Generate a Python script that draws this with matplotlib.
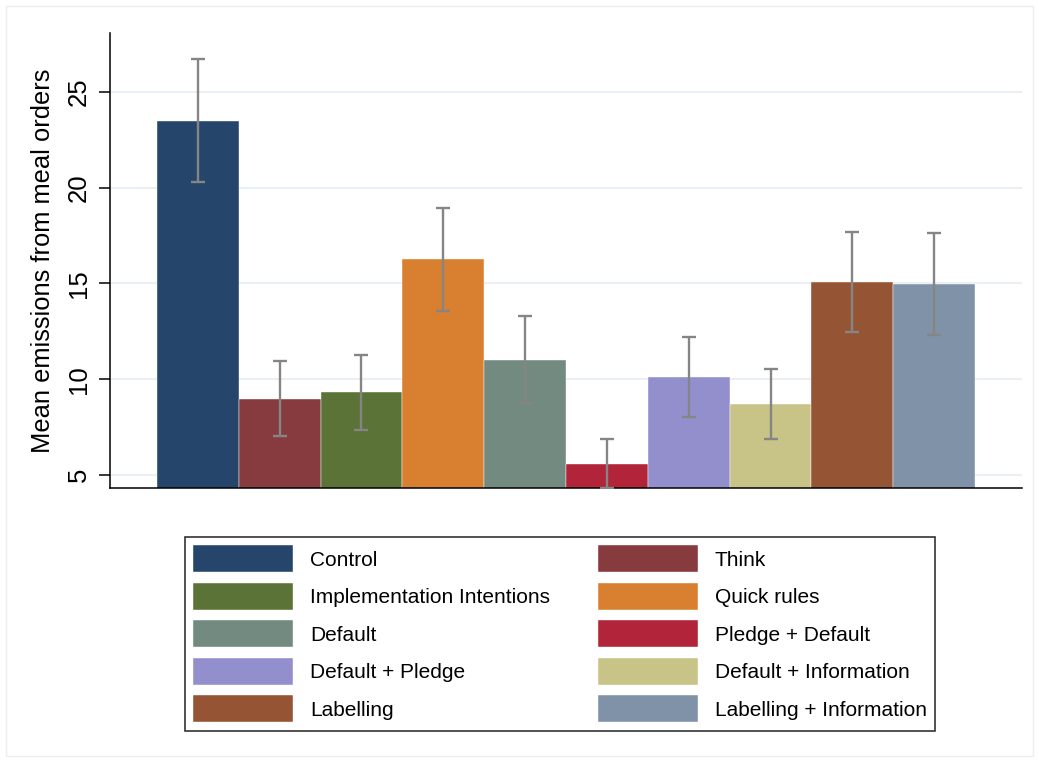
import matplotlib
matplotlib.use('Agg')
import matplotlib.pyplot as plt
from matplotlib.patches import Rectangle

plt.rcParams['font.family'] = ['Liberation Sans', 'DejaVu Sans']

# treatment groups, means and 95% CI bounds
groups = ['Control', 'Think', 'Implementation Intentions', 'Quick rules', 'Default',
          'Pledge + Default', 'Default + Pledge', 'Default + Information',
          'Labelling', 'Labelling + Information']
means = [23.48, 8.98, 9.32, 16.26, 11.0, 5.59, 10.10, 8.72, 15.09, 14.99]
ci_low = [20.30, 7.04, 7.37, 13.58, 8.76, 4.32, 8.01, 6.88, 12.48, 12.33]
ci_high = [26.72, 10.94, 11.27, 18.94, 13.30, 6.86, 12.19, 10.55, 17.70, 17.64]
colors = ['#25456b', '#873b3e', '#5b7336', '#d8802f', '#728a80',
          '#b2243a', '#928fcc', '#c8c386', '#955534', '#8092a8']

fig = plt.figure(figsize=(10.39, 7.6), dpi=100)
ax = fig.add_axes([0.1059, 0.3579, 0.8777, 0.5987])

x = list(range(len(groups)))
bars = ax.bar(x, means, width=1.0, bottom=0, color=colors, label=groups,
              edgecolor='white', linewidth=0.3, zorder=2)
yerr = [[m - lo for m, lo in zip(means, ci_low)],
        [hi - m for m, hi in zip(means, ci_high)]]
ax.errorbar(x, means, yerr=yerr, fmt='none', ecolor='#858585',
            elinewidth=1.7, capsize=4.8, capthick=1.7, zorder=3)

ax.set_xlim(-1.074, 10.074)
ax.set_ylim(4.32, 28.08)
ax.set_yticks([5, 10, 15, 20, 25])
ax.set_xticks([])
ax.grid(axis='y', color='#e9eff2', linewidth=1.5, zorder=0)
ax.set_axisbelow(True)
for s in ['top', 'right']:
    ax.spines[s].set_visible(False)
for s in ['left', 'bottom']:
    ax.spines[s].set_linewidth(1.1)
ax.tick_params(axis='y', length=8, width=1.1, pad=6, labelsize=18.5)
for lbl in ax.get_yticklabels():
    lbl.set_rotation(90)
    lbl.set_va('center')
ax.set_ylabel('Mean emissions from meal orders', fontsize=18.4, labelpad=8)

# legend filled row by row: reorder for matplotlib's column-major layout
ncol = 2
nrow = (len(groups) + ncol - 1) // ncol
order = [r * ncol + c for c in range(ncol) for r in range(nrow)]
leg = fig.legend(handles=[bars[i] for i in order], labels=[groups[i] for i in order],
                 ncol=ncol, loc='upper left',
                 bbox_to_anchor=(185 / 1039, 1 - 537 / 760),
                 fontsize=15, frameon=True, fancybox=False,
                 handlelength=4.8, handleheight=1.62, handletextpad=0.8,
                 labelspacing=0.5, columnspacing=2.3, borderpad=0.4,
                 borderaxespad=0)
leg.get_frame().set_edgecolor('black')
leg.get_frame().set_linewidth(1.2)

# faint outer frame of the graph region
fig.patches.append(Rectangle((6 / 1039, 4 / 760), 1 - 12 / 1039, 1 - 10 / 760,
                             transform=fig.transFigure, fill=False,
                             edgecolor='#eeeeee', linewidth=1))

fig.savefig('out.png', dpi=100)
